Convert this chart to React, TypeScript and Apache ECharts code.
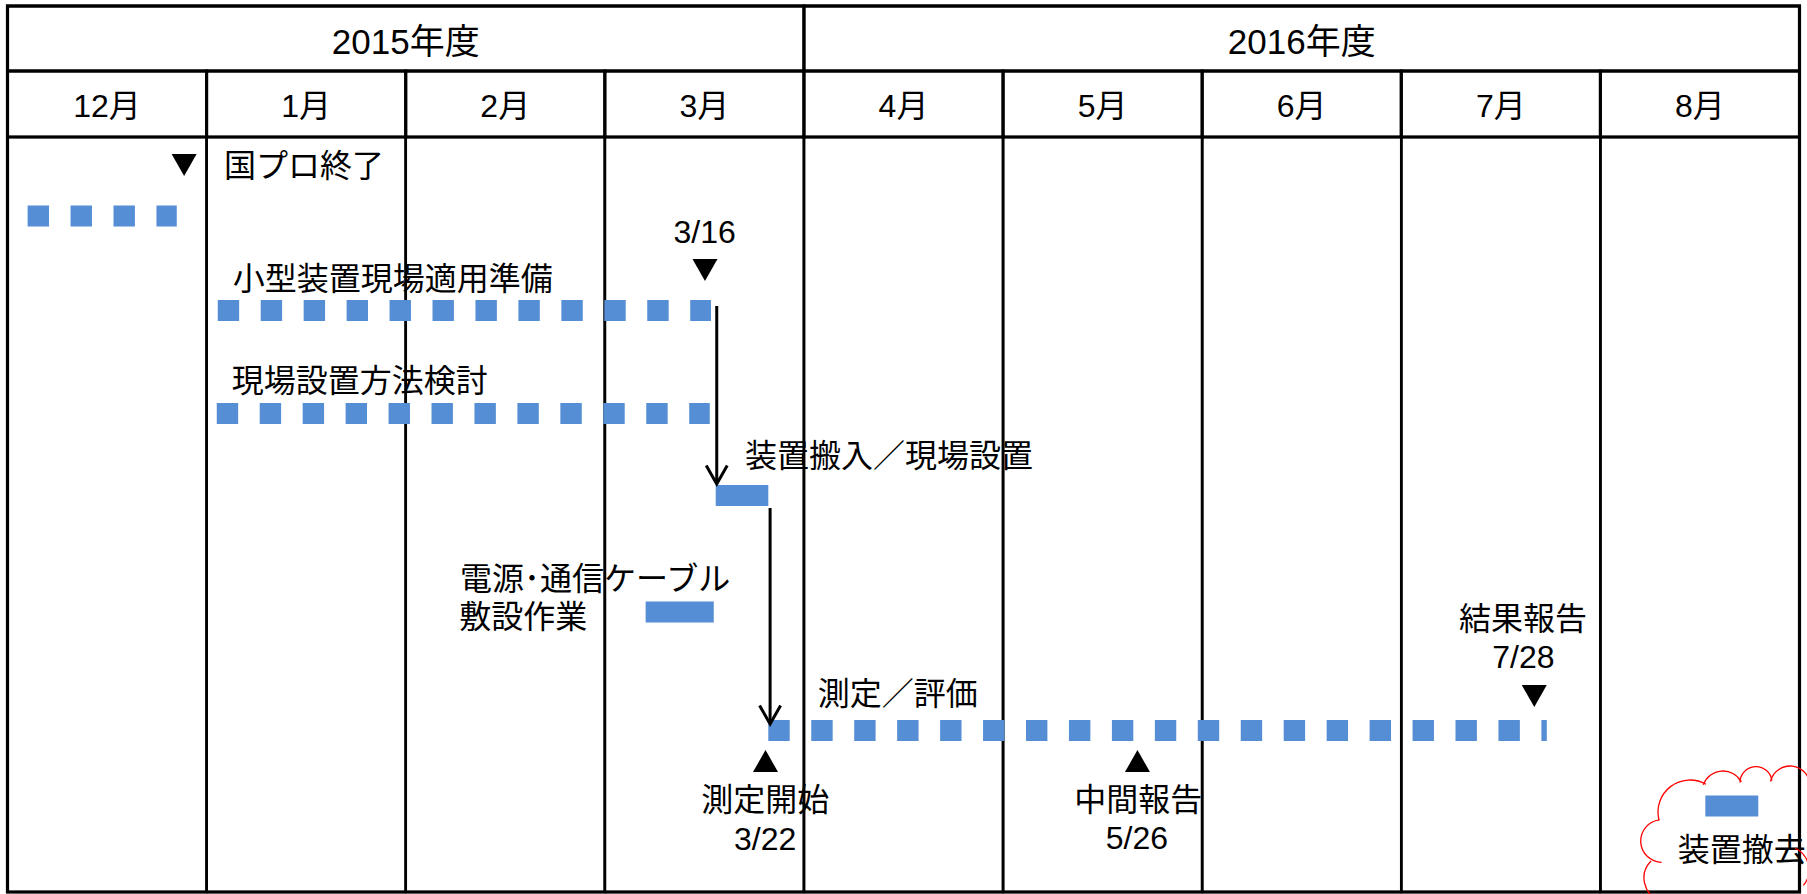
import React, { useEffect, useRef } from 'react';
import * as echarts from 'echarts';

// ---------------- data ----------------
const months = ['12月', '1月', '2月', '3月', '4月', '5月', '6月', '7月', '8月'];
const fiscalYears = ['2015年度', '2016年度'];
const fiscalYearStart = [0, 4];
const fiscalYearEnd = [4, 9];
// table row boundaries (lane units, top → bottom): year row, month row, body
const rowBounds = [0, 6.5, 13.1, 88.6];

// tasks: x in months from 1 Dec 2015, lane = vertical position
const taskNames = ['国プロ', '小型装置現場適用準備', '現場設置方法検討', '装置搬入／現場設置', '電源･通信ケーブル敷設作業', '測定／評価', '装置撤去'];
const taskStart = [0.101, 1.056, 1.051, 3.557, 3.205, 3.821, 8.527];
const taskEnd = [0.85, 3.533, 3.527, 3.821, 3.547, 7.731, 8.793];
const taskLane = [21.0, 30.45, 40.75, 48.95, 60.6, 72.45, 80.0];
const taskDashed = [true, true, true, false, false, true, false];

const milestoneNames = ['国プロ終了', '3/16', '3/22', '5/26', '7/28'];
const milestoneX = [0.887, 3.503, 3.807, 5.675, 7.668];
const milestoneLane = [15.9, 26.4, 75.5, 75.5, 69.0];
const milestoneDown = [true, true, false, false, true];

const labelTexts = ['国プロ終了', '3/16', '小型装置現場適用準備', '現場設置方法検討', '装置搬入／現場設置', '電源･通信ケーブル', '敷設作業', '測定／評価', '測定開始', '3/22', '中間報告', '5/26', '結果報告', '7/28', '装置撤去'];
const labelX = [1.087, 3.501, 1.131, 1.126, 3.704, 2.273, 2.269, 4.069, 3.806, 3.805, 5.679, 5.672, 7.611, 7.613, 8.388];
const labelLane = [15.95, 22.6, 27.3, 37.5, 45.0, 57.3, 61.1, 68.8, 79.4, 83.3, 79.4, 83.2, 61.3, 65.1, 84.4];
const labelAlign = ['left', 'center', 'left', 'left', 'left', 'left', 'left', 'left', 'center', 'center', 'center', 'center', 'center', 'center', 'left'];

const arrowX = [3.562, 3.83];
const arrowFromLane = [30.0, 50.2];
const arrowToLane = [47.9, 71.9];

// ---------------- styles ----------------
const FONT = '"Liberation Sans", "Noto Sans CJK JP", sans-serif';
const BLUE = '#558ED5';

function buildOption() {
  const deg = Math.PI / 180;
  const cloudArcs = [
    { cx: 1690, cy: 812, r: 32, s: 165, e: 300 },
    { cx: 1723, cy: 792, r: 21, s: 200, e: 331 },
    { cx: 1756, cy: 782.6, r: 16, s: 180, e: 353 },
    { cx: 1790, cy: 786, r: 20, s: 193, e: 360 },
    { cx: 1662, cy: 841, r: 21.3, s: 91, e: 263 },
    { cx: 1668, cy: 878, r: 24, s: 110, e: 225 },
    { cx: 1785, cy: 870, r: 24, s: -65, e: 40 },
  ];

  return {
    animation: false,
    backgroundColor: '#ffffff',
    grid: { left: 7.5, right: 7.5, top: 6, bottom: 2 },
    xAxis: { type: 'value', min: 0, max: 9, show: false },
    yAxis: { type: 'value', min: 0, max: rowBounds[3], inverse: true, show: false },
    graphic: cloudArcs.map((a) => ({
      type: 'arc',
      z: 100,
      silent: true,
      shape: { cx: a.cx, cy: a.cy, r: a.r, startAngle: a.s * deg, endAngle: a.e * deg, clockwise: true },
      style: { stroke: '#FF0000', fill: null, lineWidth: 1.3 },
    })),
    series: [
      // year header cells
      {
        type: 'custom',
        name: 'years',
        z: 1,
        silent: true,
        data: fiscalYears.map((_, i) => [fiscalYearStart[i], fiscalYearEnd[i]]),
        renderItem: (params: any, api: any) => {
          const p0 = api.coord([api.value(0), rowBounds[0]]);
          const p1 = api.coord([api.value(1), rowBounds[1]]);
          return {
            type: 'group',
            children: [
              { type: 'rect', shape: { x: p0[0], y: p0[1], width: p1[0] - p0[0], height: p1[1] - p0[1] }, style: { fill: null, stroke: '#000', lineWidth: 3 } },
              { type: 'text', x: (p0[0] + p1[0]) / 2, y: (p0[1] + p1[1]) / 2 + 2.5, style: { text: fiscalYears[params.dataIndex], fontSize: 35, fontFamily: FONT, fill: '#000', align: 'center', verticalAlign: 'middle' } },
            ],
          };
        },
      },
      // month header cells
      {
        type: 'custom',
        name: 'months',
        z: 1,
        silent: true,
        data: months.map((_, i) => [i, i + 1]),
        renderItem: (params: any, api: any) => {
          const p0 = api.coord([api.value(0), rowBounds[1]]);
          const p1 = api.coord([api.value(1), rowBounds[2]]);
          return {
            type: 'group',
            children: [
              { type: 'rect', shape: { x: p0[0], y: p0[1], width: p1[0] - p0[0], height: p1[1] - p0[1] }, style: { fill: null, stroke: '#000', lineWidth: 3 } },
              { type: 'text', x: (p0[0] + p1[0]) / 2, y: (p0[1] + p1[1]) / 2 + 1.5, style: { text: months[params.dataIndex], fontSize: 32, fontFamily: FONT, fill: '#000', align: 'center', verticalAlign: 'middle' } },
            ],
          };
        },
      },
      // body columns
      {
        type: 'custom',
        name: 'columns',
        z: 1,
        silent: true,
        data: months.map((_, i) => [i, i + 1]),
        renderItem: (params: any, api: any) => {
          const p0 = api.coord([api.value(0), rowBounds[2]]);
          const p1 = api.coord([api.value(1), rowBounds[3]]);
          return { type: 'rect', shape: { x: p0[0], y: p0[1], width: p1[0] - p0[0], height: p1[1] - p0[1] }, style: { fill: null, stroke: '#000', lineWidth: 2.6 } };
        },
      },
      // outer border
      {
        type: 'custom',
        name: 'border',
        z: 1,
        silent: true,
        data: [[0, months.length]],
        renderItem: (params: any, api: any) => {
          const p0 = api.coord([api.value(0), rowBounds[0]]);
          const p1 = api.coord([api.value(1), rowBounds[3]]);
          return { type: 'rect', shape: { x: p0[0], y: p0[1], width: p1[0] - p0[0], height: p1[1] - p0[1] }, style: { fill: null, stroke: '#000', lineWidth: 3.2 } };
        },
      },
      // task bars
      {
        type: 'custom',
        name: 'tasks',
        z: 3,
        silent: true,
        data: taskNames.map((_, i) => [taskStart[i], taskEnd[i], taskLane[i]]),
        renderItem: (params: any, api: any) => {
          const p0 = api.coord([api.value(0), api.value(2)]);
          const p1 = api.coord([api.value(1), api.value(2)]);
          const dashed = taskDashed[params.dataIndex];
          return {
            type: 'line',
            shape: { x1: p0[0], y1: p0[1], x2: p1[0], y2: p1[1] },
            style: { stroke: BLUE, lineWidth: 21, lineCap: 'butt', lineDash: dashed ? [21.4, 21.55] : null },
          };
        },
      },
      // dependency arrows
      {
        type: 'custom',
        name: 'arrows',
        z: 4,
        silent: true,
        data: arrowX.map((x, i) => [x, arrowFromLane[i], arrowToLane[i]]),
        renderItem: (params: any, api: any) => {
          const p0 = api.coord([api.value(0), api.value(1)]);
          const p1 = api.coord([api.value(0), api.value(2)]);
          return {
            type: 'group',
            children: [
              { type: 'line', shape: { x1: p0[0], y1: p0[1], x2: p1[0], y2: p1[1] - 1 }, style: { stroke: '#000', lineWidth: 3 } },
              { type: 'polyline', shape: { points: [[p1[0] - 10.5, p1[1] - 19.5], [p1[0], p1[1] - 1], [p1[0] + 10.5, p1[1] - 19.5]] }, style: { stroke: '#000', fill: null, lineWidth: 3 } },
            ],
          };
        },
      },
      // milestones
      {
        type: 'scatter',
        name: 'milestones',
        z: 5,
        silent: true,
        symbol: 'triangle',
        symbolSize: [25, 22],
        itemStyle: { color: '#000', opacity: 1 },
        data: milestoneNames.map((n, i) => ({ name: n, value: [milestoneX[i], milestoneLane[i]], symbolRotate: milestoneDown[i] ? 180 : 0 })),
      },
      // labels
      {
        type: 'custom',
        name: 'labels',
        z: 6,
        silent: true,
        data: labelTexts.map((_, i) => [labelX[i], labelLane[i]]),
        renderItem: (params: any, api: any) => {
          const p = api.coord([api.value(0), api.value(1)]);
          return {
            type: 'text',
            x: p[0],
            y: p[1],
            style: { text: labelTexts[params.dataIndex], fontSize: 32, fontFamily: FONT, fill: '#000', align: labelAlign[params.dataIndex], verticalAlign: 'middle' },
          };
        },
      },
    ],
  };
}

export default function App() {
  const ref = useRef<HTMLDivElement>(null);
  useEffect(() => {
    if (!ref.current) return;
    const chart = echarts.init(ref.current, null, { renderer: 'svg' });
    chart.setOption(buildOption() as any);
    return () => chart.dispose();
  }, []);
  return (
    <div
      ref={ref}
      style={{ position: 'absolute', left: 0, top: 0, width: 1807, height: 894, background: '#fff' }}
    />
  );
}
